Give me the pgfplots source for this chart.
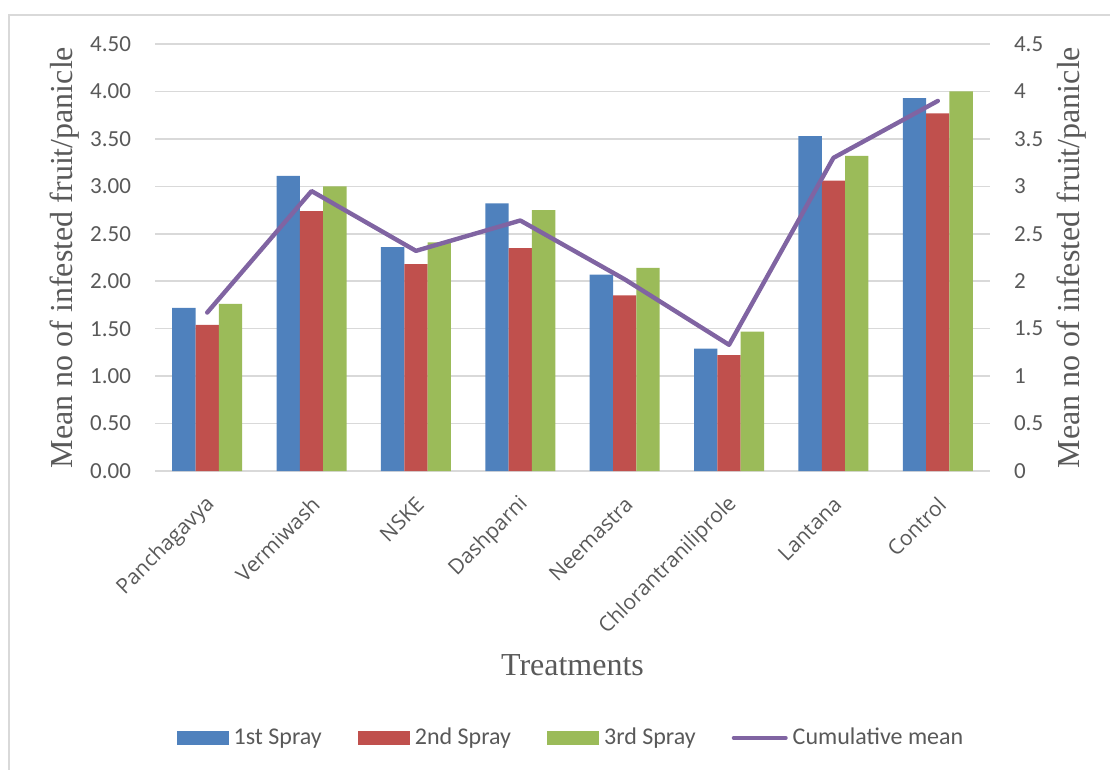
\documentclass[border=0pt]{standalone}
\usepackage{pgfplots}
\pgfplotsset{compat=1.18}
\usepackage{fontspec}
\setmainfont{Liberation Serif}
\newfontfamily\carlito{Carlito}
\newfontfamily\opensans{Open Sans}
\definecolor{cblue}{HTML}{4F81BD}
\definecolor{cred}{HTML}{C0504D}
\definecolor{cgreen}{HTML}{9BBB59}
\definecolor{cpurple}{HTML}{8064A2}
\definecolor{tgray}{HTML}{595959}
\definecolor{ggray}{HTML}{D9D9D9}
\begin{document}
\begin{tikzpicture}
\useasboundingbox (0,0) rectangle (555pt,-385pt);
\draw[ggray, line width=1pt] (4.5pt,-385pt) -- (4.5pt,-7.5pt) -- (555pt,-7.5pt);
\begin{axis}[
  at={(77.5pt,-235.5pt)}, anchor=south west,
  width=417.5pt, height=213.5pt, scale only axis,
  xmin=-0.5, xmax=7.5, ymin=0, ymax=4.5,
  ybar=0pt, bar width=11.65pt,
  axis line style={draw=none},
  axis x line*=bottom,
  ytick={0,0.5,...,4.5},
  ymajorgrids, grid style={ggray, line width=0.75pt},
  major tick length=0pt,
  xtick={0,...,7},
  xticklabels={Panchagavya,Vermiwash,NSKE,Dashparni,Neemastra,Chlorantraniliprole,Lantana,Control},
  xticklabel style={font=\opensans\fontsize{10.5pt}{12pt}\selectfont, text=tgray, rotate=45, anchor=east, yshift=-12.1pt, xshift=-5.6pt},
  yticklabel style={font=\carlito\fontsize{11.5pt}{13pt}\selectfont, text=tgray, xshift=-8.5pt},
  /pgf/number format/assume math mode=true,
  yticklabel={\pgfmathprintnumber[fixed,fixed zerofill,precision=2]{\tick}},
  ylabel={Mean no of infested fruit/panicle},
  ylabel style={font=\fontsize{16pt}{18pt}\selectfont, text=tgray, at={(axis description cs:-0.108,0.5)}, anchor=center},
  xlabel={Treatments},
  xlabel style={font=\fontsize{16pt}{18pt}\selectfont, text=tgray, at={(axis description cs:0.5,-0.454)}, anchor=center},
  legend columns=4,
  legend style={at={(0.497,-0.625)}, anchor=center, draw=none, fill=none,
    font=\carlito\fontsize{12pt}{14pt}\selectfont, text=tgray,
    nodes={inner sep=0pt},
    /tikz/every odd column/.append style={column sep=2.5pt},
    /tikz/every even column/.append style={column sep=18pt}},
  legend cell align=left,
]
\addplot[fill=cblue, draw=none, legend image code/.code={\fill[cblue] (0pt,-3.5pt) rectangle (26pt,3.5pt);}] coordinates {(0,1.72) (1,3.11) (2,2.36) (3,2.82) (4,2.07) (5,1.29) (6,3.53) (7,3.93)};
\addlegendentry{1st Spray}
\addplot[fill=cred, draw=none, legend image code/.code={\fill[cred] (0pt,-3.5pt) rectangle (26pt,3.5pt);}] coordinates {(0,1.54) (1,2.74) (2,2.18) (3,2.35) (4,1.85) (5,1.22) (6,3.06) (7,3.77)};
\addlegendentry{2nd Spray}
\addplot[fill=cgreen, draw=none, legend image code/.code={\fill[cgreen] (0pt,-3.5pt) rectangle (26pt,3.5pt);}] coordinates {(0,1.76) (1,3.00) (2,2.41) (3,2.75) (4,2.14) (5,1.47) (6,3.32) (7,4.00)};
\addlegendentry{3rd Spray}
\addlegendimage{legend image code/.code={\draw[cpurple, line width=2pt, line cap=round] (1pt,0pt) -- (27pt,0pt);}}
\addlegendentry{Cumulative mean}
\end{axis}
\begin{axis}[
  at={(77.5pt,-235.5pt)}, anchor=south west,
  width=417.5pt, height=213.5pt, scale only axis,
  xmin=-0.5, xmax=7.5, ymin=0, ymax=4.5,
  axis x line=none,
  axis y line*=right,
  axis line style={draw=none},
  major tick length=0pt,
  ytick={0,0.5,...,4.5},
  yticklabel style={font=\carlito\fontsize{11.5pt}{13pt}\selectfont, text=tgray, xshift=8.5pt},
  /pgf/number format/assume math mode=true,
  ylabel={Mean no of infested fruit/panicle},
  ylabel style={font=\fontsize{16pt}{18pt}\selectfont, text=tgray, at={(axis description cs:1.098,0.5)}, anchor=center},
]
\addplot[cpurple, line width=2.2pt, mark=none, line join=round, line cap=round] coordinates {(0,1.67) (1,2.95) (2,2.32) (3,2.64) (4,2.02) (5,1.33) (6,3.30) (7,3.90)};
\end{axis}
\end{tikzpicture}
\end{document}
